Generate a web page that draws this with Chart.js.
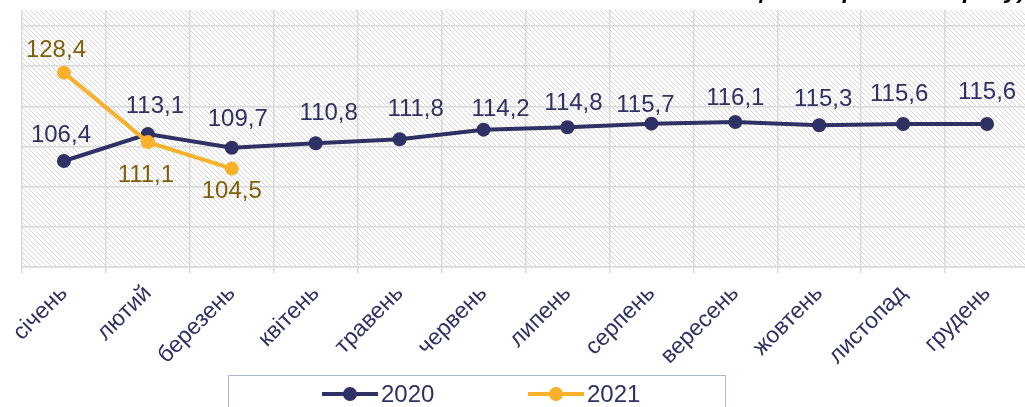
<!DOCTYPE html>
<html>
<head>
<meta charset="utf-8">
<script src="https://cdn.jsdelivr.net/npm/chart.js@4.4.1/dist/chart.umd.min.js"></script>
<style>
  html, body { margin: 0; padding: 0; background: #fff; overflow: hidden; }
  /* plot area runs a few px past the right edge, like the cropped original */
  #wrap { width: 1025px; height: 407px; overflow: hidden; }
</style>
</head>
<body>
<div id="wrap"><canvas id="c" width="1036" height="407"></canvas></div>
<script>
// Monthly index, two years; 2021 only has the first quarter.
const MONTHS = ['січень', 'лютий', 'березень', 'квітень', 'травень', 'червень',
                'липень', 'серпень', 'вересень', 'жовтень', 'листопад', 'грудень'];
const SERIES_2020 = [106.4, 113.1, 109.7, 110.8, 111.8, 114.2, 114.8, 115.7, 116.1, 115.3, 115.6, 115.6];
const SERIES_2021 = [128.4, 111.1, 104.5, null, null, null, null, null, null, null, null, null];
const Y_TICKS = [80, 90, 100, 110, 120, 130, 140];

// Hand-nudged label offsets (px from the point), as in the Excel original.
const LABEL_DX_2020 = [-3, 7, 6, 13, 16, 17, 6, -6, 0, 4, -4, 0];
const LABEL_DY_2020 = [-26, -28, -28, -30, -30, -20, -24, -18, -24, -26, -30, -32];
const LABEL_DX_2021 = [-8, -2, 0];
const LABEL_DY_2021 = [-22, 33, 23];

const NAVY = '#2f3063';
const GOLD = '#f9b12c';
const GOLD_TEXT = '#7f5f0c';
const GRID = '#d9d9d9';
const FONT = '"Liberation Sans", Arial, sans-serif';

// Diagonal hatch fill for the plot area.
function makeHatch() {
  const s = 5;
  const c = document.createElement('canvas');
  c.width = s; c.height = s;
  const g = c.getContext('2d');
  g.fillStyle = '#fff';
  g.fillRect(0, 0, s, s);
  g.strokeStyle = '#d6d6d6';
  g.lineWidth = 1;
  for (const o of [-s, 0, s]) {
    g.beginPath();
    g.moveTo(o - 1, -1);
    g.lineTo(o + s + 1, s + 1);
    g.stroke();
  }
  return c;
}

const hatchPlugin = {
  id: 'hatch',
  beforeDraw(chart) {
    const { ctx, chartArea: a } = chart;
    ctx.save();
    ctx.fillStyle = ctx.createPattern(makeHatch(), 'repeat');
    ctx.fillRect(a.left, a.top, a.right - a.left, a.bottom - a.top);
    ctx.restore();
  }
};

const fmt = v => v.toFixed(1).replace('.', ',');

const valueLabels = {
  id: 'valueLabels',
  afterDatasetsDraw(chart) {
    const { ctx } = chart;
    ctx.save();
    ctx.font = '24px ' + FONT;
    ctx.textAlign = 'center';
    ctx.textBaseline = 'middle';
    chart.data.datasets.forEach((ds, di) => {
      const meta = chart.getDatasetMeta(di);
      meta.data.forEach((pt, i) => {
        const v = ds.data[i];
        if (v == null) return;
        ctx.fillStyle = ds.labelColor;
        ctx.fillText(fmt(v), pt.x + ds.labelDx[i], pt.y + ds.labelDy[i]);
      });
    });
    ctx.restore();
  }
};

// Boxed legend under the axis, line + dot marker like Excel.
const boxLegend = {
  id: 'boxLegend',
  afterDraw(chart) {
    const { ctx } = chart;
    ctx.save();
    ctx.strokeStyle = '#a7b8d6';
    ctx.lineWidth = 1;
    ctx.strokeRect(228.5, 375.5, 497, 60);
    ctx.font = '24px ' + FONT;
    ctx.textBaseline = 'middle';
    ctx.textAlign = 'left';
    chart.data.datasets.forEach((ds, i) => {
      const x = 322 + i * 206, y = 394;
      ctx.strokeStyle = ds.borderColor;
      ctx.lineWidth = 4;
      ctx.beginPath();
      ctx.moveTo(x, y);
      ctx.lineTo(x + 56, y);
      ctx.stroke();
      ctx.fillStyle = ds.borderColor;
      ctx.beginPath();
      ctx.arc(x + 28, y, 7, 0, Math.PI * 2);
      ctx.fill();
      ctx.fillStyle = NAVY;
      ctx.fillText(ds.label, x + 59, y + 1);
    });
    ctx.restore();
  }
};

// Only the descenders of the cut-off heading peek in at the top edge.
const topText = {
  id: 'topText',
  afterDraw(chart) {
    const { ctx } = chart;
    ctx.save();
    ctx.font = 'italic bold 24px ' + FONT;
    ctx.fillStyle = '#000';
    ctx.textAlign = 'right';
    ctx.textBaseline = 'alphabetic';
    ctx.fillText('місяця попереднього року)', 1026, -2);
    ctx.restore();
  }
};

new Chart(document.getElementById('c'), {
  type: 'line',
  data: {
    labels: MONTHS,
    datasets: [
      {
        label: '2020',
        data: SERIES_2020,
        borderColor: NAVY,
        backgroundColor: NAVY,
        borderWidth: 4,
        pointRadius: 7,
        pointBorderWidth: 0,
        pointBackgroundColor: NAVY,
        tension: 0,
        order: 1,
        labelColor: NAVY,
        labelDx: LABEL_DX_2020,
        labelDy: LABEL_DY_2020
      },
      {
        label: '2021',
        data: SERIES_2021,
        borderColor: GOLD,
        backgroundColor: GOLD,
        borderWidth: 4,
        pointRadius: 7,
        pointBorderWidth: 0,
        pointBackgroundColor: GOLD,
        tension: 0,
        spanGaps: false,
        order: 0,
        labelColor: GOLD_TEXT,
        labelDx: LABEL_DX_2021,
        labelDy: LABEL_DY_2021
      }
    ]
  },
  options: {
    responsive: false,
    animation: false,
    devicePixelRatio: 1,
    layout: { padding: { top: 10, right: 3, bottom: 0, left: 0 } },
    plugins: {
      legend: { display: false },
      tooltip: { enabled: false }
    },
    scales: {
      x: {
        offset: true,
        grid: { offset: true, color: GRID, lineWidth: 1.5, tickLength: 6 },
        border: { color: GRID, width: 1.5 },
        ticks: {
          autoSkip: false,
          maxRotation: 45,
          minRotation: 45,
          padding: 7,
          color: NAVY,
          font: { family: FONT, size: 23 }
        },
        afterFit(s) { s.height = 140; }
      },
      y: {
        min: 80,
        max: 144,
        grid: { color: GRID, lineWidth: 1.5, drawTicks: false },
        border: { display: false },
        ticks: { display: false, stepSize: 10 },
        afterBuildTicks(s) { s.ticks = Y_TICKS.map(v => ({ value: v })); },
        afterFit(s) { s.width = 22; }
      }
    }
  },
  plugins: [hatchPlugin, valueLabels, boxLegend, topText]
});
</script>
</body>
</html>
